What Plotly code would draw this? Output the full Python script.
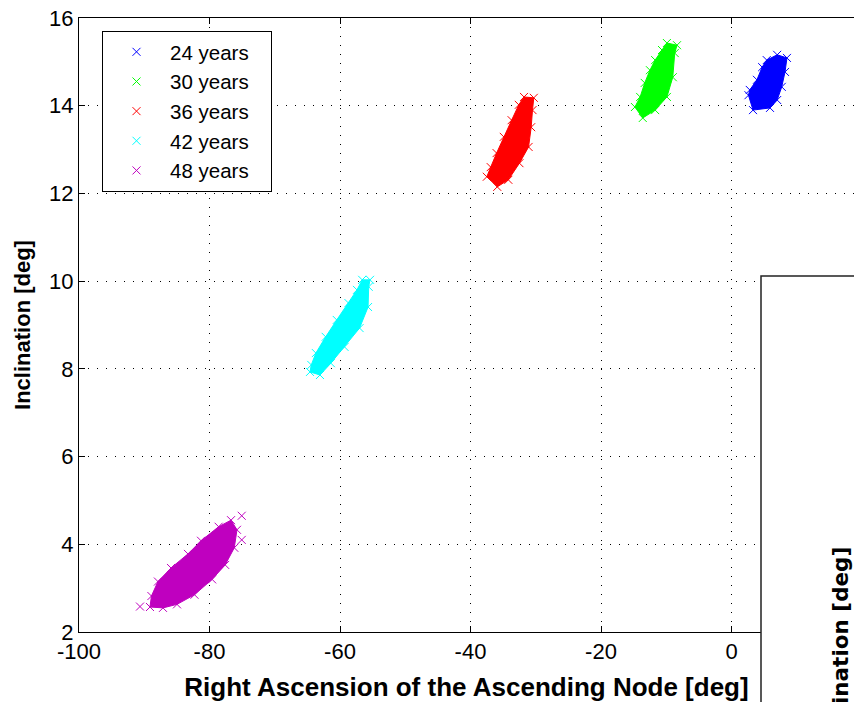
import plotly.graph_objects as go

# ---- data ----
labels = ["24 years", "30 years", "36 years", "42 years", "48 years"]
colors = ["#0000FF", "#00FF00", "#FF0000", "#00FFFF", "#BF00BF"]

# outline of each cloud of samples (RAAN [deg], inclination [deg])
raan_24 = [2.6, 3.3, 5.9, 7.0, 7.7, 8.2, 8.5, 7.0, 5.4, 4.7, 3.9, 2.8]
inc_24 = [14.24, 13.9, 13.95, 14.13, 14.43, 14.77, 15.09, 15.16, 15.04, 14.88, 14.59, 14.36]

raan_30 = [-14.8, -13.6, -11.7, -9.9, -9.0, -8.7, -8.35, -9.9, -10.65, -11.7, -12.5, -13.3, -14.0]
inc_30 = [13.97, 13.72, 13.9, 14.2, 14.65, 15.2, 15.38, 15.43, 15.27, 15.04, 14.81, 14.52, 14.2]

raan_36 = [-37.5, -35.9, -34.2, -32.5, -31.1, -30.7, -30.5, -30.3, -31.8, -32.6, -33.7, -34.9, -36.0, -36.9]
inc_36 = [12.38, 12.15, 12.31, 12.69, 13.06, 13.51, 13.9, 14.18, 14.2, 14.02, 13.67, 13.29, 12.92, 12.6]

raan_42 = [-64.6, -63.07, -61.4, -59.3, -57.0, -55.7, -55.6, -55.4, -56.6, -57.4, -58.7, -60.5, -62.2, -63.7, -64.4]
inc_42 = [7.93, 7.86, 8.13, 8.50, 8.93, 9.41, 9.87, 10.03, 10.03, 9.80, 9.50, 9.115, 8.73, 8.36, 8.09]

raan_48 = [-89.12, -87.13, -84.98, -82.3, -79.6, -77.6, -76.2, -75.79, -76.7, -78.6, -81.3, -83.3, -85.9, -87.9, -88.9]
inc_48 = [2.57, 2.55, 2.63, 2.85, 3.2, 3.53, 3.92, 4.33, 4.55, 4.4, 4.08, 3.78, 3.46, 3.15, 2.82]

# isolated samples outside the dense clouds
out_raan_48 = [-90.65, -75.06, -75.06]
out_inc_48 = [2.58, 4.65, 4.1]

x_ticks = [-100, -80, -60, -40, -20, 0]
x_tick_text = ["-100", "-80", "-60", "-40", "-20", "0"]
y_ticks = [2, 4, 6, 8, 10, 12, 14, 16]

clouds = [(raan_24, inc_24), (raan_30, inc_30), (raan_36, inc_36),
          (raan_42, inc_42), (raan_48, inc_48)]

FONT = "Liberation Sans, Arial, sans-serif"

fig = go.Figure()
for (xs, ys), col in zip(clouds, colors):
    fig.add_trace(go.Scatter(
        x=xs + [xs[0]], y=ys + [ys[0]], mode="lines", fill="toself",
        fillcolor=col, line=dict(color=col, width=1),
        showlegend=False, hoverinfo="skip"))

for i, ((xs, ys), col, lab) in enumerate(zip(clouds, colors, labels)):
    mx, my = list(xs), list(ys)
    if i == 4:
        mx += out_raan_48
        my += out_inc_48
    fig.add_trace(go.Scatter(
        x=mx, y=my, mode="markers", name=lab + "\u00a0\u00a0\u00a0",
        marker=dict(symbol="x-thin", size=8, color=col,
                    line=dict(color=col, width=1))))

L, T, B = 79, 18, 70
W, H = 854, 702
plot_w = W - L
plot_h = H - T - B
px_per_unit = 130.5 / 20.0
x_right = -100 + plot_w / px_per_unit

fig.update_layout(
    width=W, height=H,
    margin=dict(l=L, r=0, t=T, b=B),
    paper_bgcolor="white", plot_bgcolor="white",
    font=dict(family=FONT, size=22, color="black"),
    showlegend=True,
    legend=dict(x=(102 - L) / plot_w, y=(H - B - 31) / plot_h,
                xanchor="left", yanchor="top",
                bgcolor="white", bordercolor="black", borderwidth=1,
                font=dict(family=FONT, size=20.5, color="black"),
                itemwidth=57, tracegroupgap=0),
    xaxis=dict(range=[-100, x_right], tickvals=x_ticks, ticktext=x_tick_text,
               ticks="inside", ticklen=6, tickcolor="black",
               showline=True, linecolor="black", linewidth=1, mirror="ticks",
               showgrid=True, gridcolor="black", gridwidth=1, griddash="1px,8px",
               zeroline=False,
               title=dict(text="<b>Right Ascension of the Ascending Node [deg]</b>",
                          font=dict(family=FONT, size=26), standoff=15),
               tickfont=dict(family=FONT, size=22)),
    yaxis=dict(range=[2, 16], tickvals=y_ticks,
               ticks="inside", ticklen=6, tickcolor="black",
               showline=True, linecolor="black", linewidth=1, mirror=False,
               showgrid=True, gridcolor="black", gridwidth=1, griddash="1px,8px",
               zeroline=False,
               title=dict(text="<b>Inclination [deg]</b>",
                          font=dict(family=FONT, size=22), standoff=12),
               tickfont=dict(family=FONT, size=22)),
)

# overlapping panel of another figure at the lower right
fig.add_shape(type="rect", xref="paper", yref="paper",
              x0=(761 - L) / plot_w, x1=1.05,
              y0=-0.3, y1=(H - B - 276) / plot_h,
              fillcolor="white", line=dict(color="#222", width=1.5),
              layer="above")
fig.add_annotation(xref="paper", yref="paper",
                   x=(840 - L) / plot_w, y=(H - B - 545) / plot_h,
                   xanchor="center", yanchor="top", showarrow=False,
                   textangle=-90, text="<b>Inclination [deg]</b>",
                   font=dict(family="DejaVu Sans", size=21.5, color="black"))

fig.write_html("out.html")
